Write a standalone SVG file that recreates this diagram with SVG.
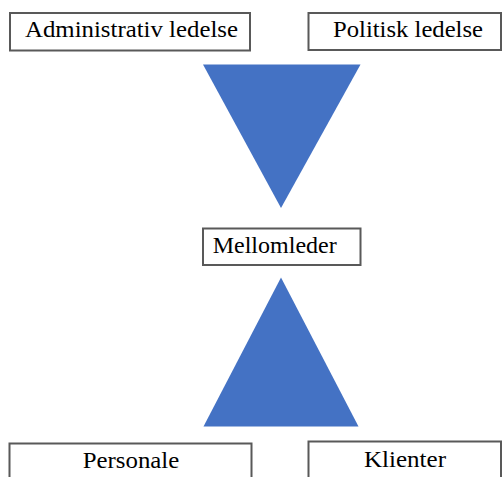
<svg xmlns="http://www.w3.org/2000/svg" width="503" height="477" viewBox="0 0 503 477">
<style>
.box{fill:#ffffff;stroke:#595959;stroke-width:2}
.lbl{font-size:23px;fill:#000000}
.tri{fill:#4472C4}
</style>
<rect width="503" height="477" fill="#ffffff"/>
<g id="connectors">
<polygon class="tri" points="203,64.5 360.5,64.5 281,208"/>
<polygon class="tri" points="281,277.5 203.5,426.5 358.5,426.5"/>
</g>
<g font-family="'Liberation Serif', 'DejaVu Serif', serif">
<g id="administrativ">
<rect class="box" x="10" y="13" width="240" height="37.5"/>
<text class="lbl" x="25" y="37.3" textLength="213" lengthAdjust="spacingAndGlyphs">Administrativ ledelse</text>
</g>
<g id="politisk">
<rect class="box" x="308.5" y="13" width="192.5" height="37"/>
<text class="lbl" x="333" y="36.8" textLength="150" lengthAdjust="spacingAndGlyphs">Politisk ledelse</text>
</g>
<g id="mellomleder">
<rect class="box" x="203" y="228.5" width="157.5" height="36.5"/>
<text class="lbl" x="212.7" y="253.3" textLength="124" lengthAdjust="spacingAndGlyphs">Mellomleder</text>
</g>
<g id="personale">
<rect class="box" x="9.5" y="443.5" width="242" height="50"/>
<text class="lbl" x="82.7" y="468.3" textLength="96.6" lengthAdjust="spacingAndGlyphs">Personale</text>
</g>
<g id="klienter">
<rect class="box" x="308.5" y="441.5" width="192.5" height="50"/>
<text class="lbl" x="364" y="466.7" textLength="82" lengthAdjust="spacingAndGlyphs">Klienter</text>
</g>
</g>
</svg>
